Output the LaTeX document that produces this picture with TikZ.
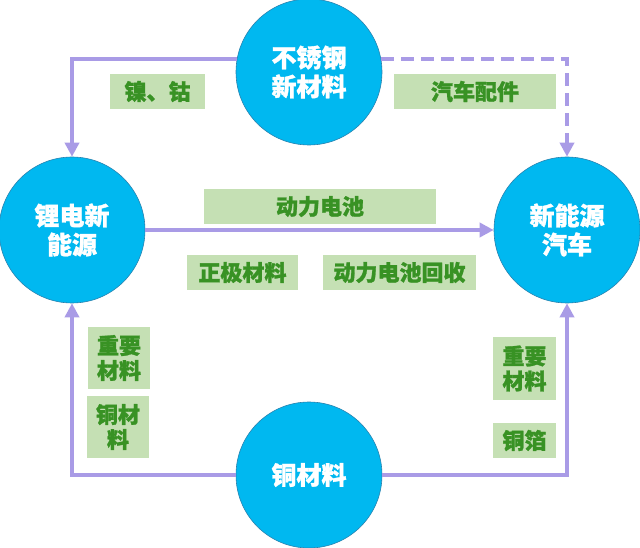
\documentclass[tikz,border=0pt]{standalone}
\usepackage{fontspec}
\newfontfamily\cjk{Noto Sans CJK SC}[BoldFeatures={FakeBold=1.2}]
\usetikzlibrary{arrows.meta}
\definecolor{ballblue}{RGB}{0,184,240}
\definecolor{ballrim}{RGB}{40,130,175}
\definecolor{flowpurple}{RGB}{169,155,230}
\definecolor{tagfill}{RGB}{197,224,180}
\definecolor{taggreen}{RGB}{56,146,36}

\begin{document}
\begin{tikzpicture}[x=1pt,y=-1pt,
	ball/.style={circle,minimum size=146pt,inner sep=0pt,fill=ballblue,draw=ballrim,line width=0.6pt,
		text=white,align=center,font=\cjk\bfseries\fontsize{25}{29}\selectfont},
	tag/.style={fill=tagfill,text=taggreen,inner sep=0pt,align=center,
		font=\cjk\bfseries\fontsize{22}{25}\selectfont},
	flow/.style={draw=flowpurple,line width=4pt,-{Triangle[width=14pt,length=14pt]}}]
	\useasboundingbox (0,0) rectangle (640,548);
	% the four circles
	\node[ball] (steel) at (309,72) {不锈钢\\新材料};
	\node[ball] (lion) at (72,230) {锂电新\\能源};
	\node[ball] (ev) at (567,230) {新能源\\汽车};
	\node[ball] (copper) at (309,475) {铜材料};
	% connectors
	\draw[flow] (steel.170) -| (lion.north);
	\draw[flow,dash pattern=on 13pt off 7pt] (steel.10) -| (ev.north);
	\draw[flow] (lion) -- (ev);
	\draw[flow] (copper.west) -| (lion.south);
	\draw[flow] (copper.east) -| (ev.south);
	% labels
	\node[tag,minimum width=95pt,minimum height=35pt] (nico) at (157.5,91.5) {镍、钴};
	\node[tag,minimum width=162pt,minimum height=35pt] (parts) at (475,91.5) {汽车配件};
	\node[tag,minimum width=232pt,minimum height=35pt] (battery) at (320,206.5) {动力电池};
	\node[tag,minimum width=111pt,minimum height=35pt] (cathode) at (242.5,272.5) {正极材料};
	\node[tag,minimum width=153pt,minimum height=35pt] (recycle) at (399.5,272.5) {动力电池回收};
	\node[tag,minimum width=62pt,minimum height=62pt] (keyl) at (119,358) {重要\\材料};
	\node[tag,minimum width=62pt,minimum height=62pt] (cul) at (118,427) {铜材\\料};
	\node[tag,minimum width=63pt,minimum height=63pt] (keyr) at (524.5,368.5) {重要\\材料};
	\node[tag,minimum width=63pt,minimum height=35pt] (foil) at (524.5,440.5) {铜箔};
\end{tikzpicture}
\end{document}
